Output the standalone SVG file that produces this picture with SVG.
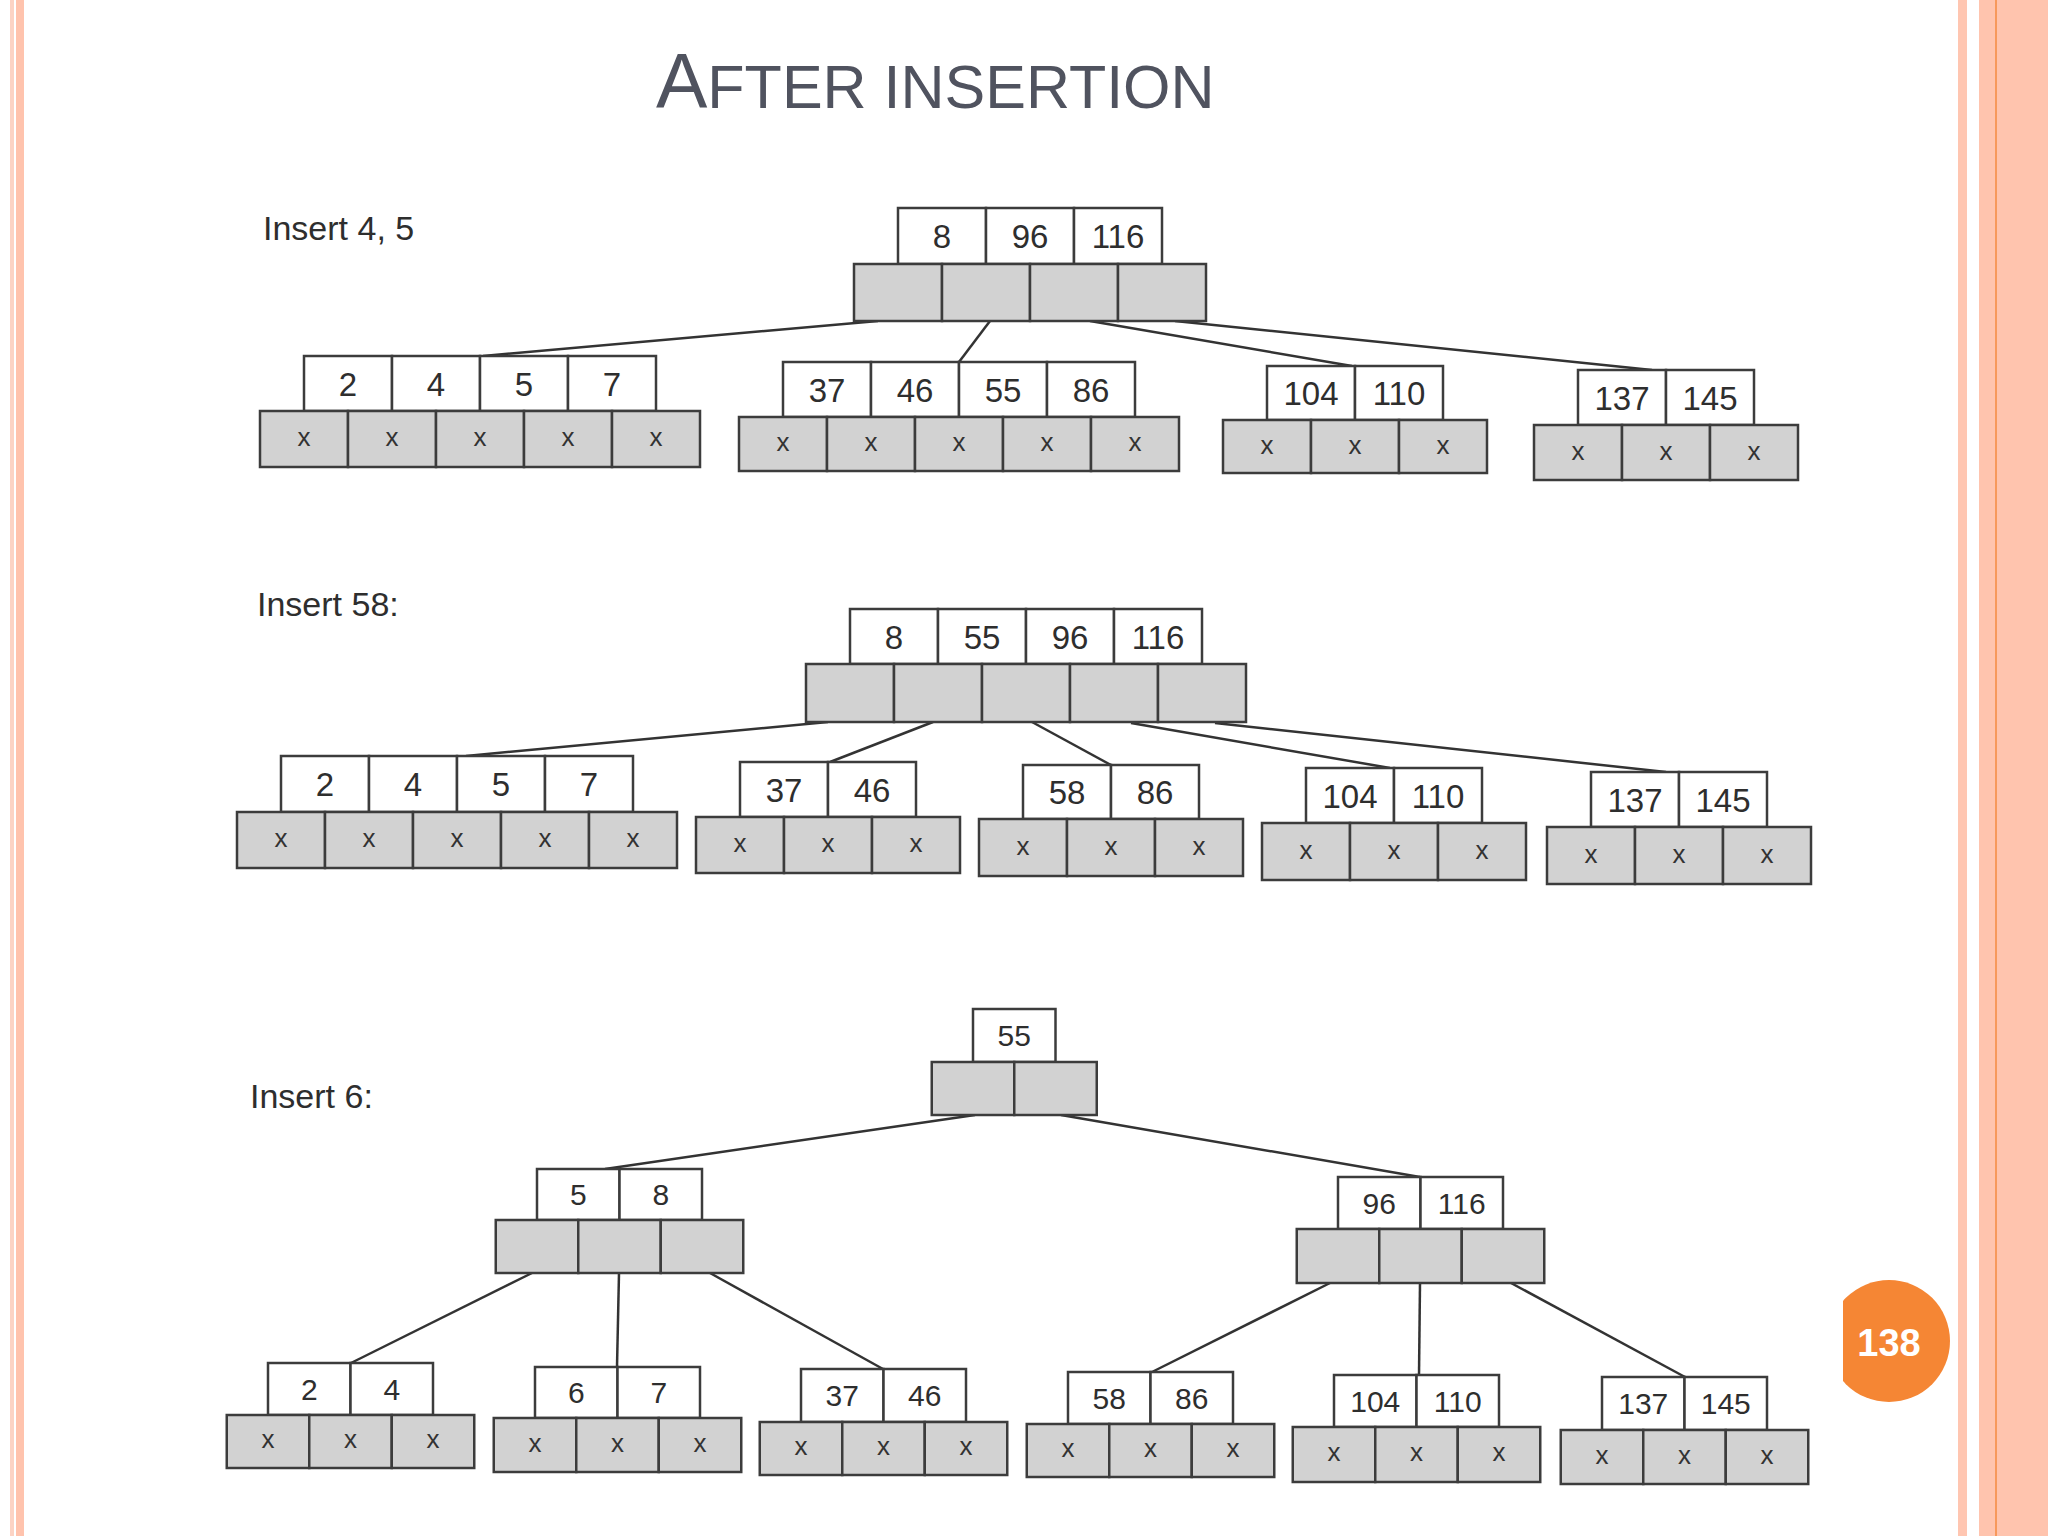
<svg xmlns="http://www.w3.org/2000/svg" width="2048" height="1536" viewBox="0 0 2048 1536">
<defs>
<style>
.k{fill:#ffffff;stroke:#3c3c3c;stroke-width:2.5}
.p{fill:#d2d2d2;stroke:#3c3c3c;stroke-width:2.5}
.n{font-family:"Liberation Sans",Arial,sans-serif;font-size:33px;fill:#2e2e2e;text-anchor:middle}
.s{font-family:"Liberation Sans",Arial,sans-serif;font-size:30px;fill:#2e2e2e;text-anchor:middle}
.x{font-family:"Liberation Sans",Arial,sans-serif;font-size:26px;fill:#333333;text-anchor:middle}
.lbl{font-family:"Liberation Sans",Arial,sans-serif;font-size:34px;fill:#2e2e2e}
.c{stroke:#333333;stroke-width:2.5;fill:none}
</style>
<clipPath id="cc"><rect x="1843" y="1270" width="120" height="150"/></clipPath>
</defs>
<rect width="2048" height="1536" fill="#ffffff"/>
<g id="borders">
<rect x="10" y="0" width="4" height="1536" fill="#fcd3c4"/>
<rect x="16" y="0" width="8" height="1536" fill="#ffc3ad"/>
<rect x="1958" y="0" width="9" height="1536" fill="#ffc6b1"/>
<rect x="1979" y="0" width="69" height="1536" fill="#ffc4ae"/>
<rect x="1995" y="0" width="2" height="1536" fill="#f7995c"/>
</g>
<text id="title" x="656" y="108" font-family="'Liberation Sans',Arial,sans-serif" fill="#50535f"><tspan font-size="77">A</tspan><tspan font-size="61">FTER INSERTION</tspan></text>

<g id="labels">
<text class="lbl" x="263" y="240">Insert 4, 5</text>
<text class="lbl" x="257" y="616">Insert 58:</text>
<text class="lbl" x="250" y="1108">Insert 6:</text>
</g>

<g id="connectors">
<line class="c" x1="878" y1="321" x2="483" y2="356"/>
<line class="c" x1="990" y1="321" x2="959" y2="362"/>
<line class="c" x1="1090" y1="321" x2="1352" y2="366"/>
<line class="c" x1="1175" y1="321" x2="1652" y2="370"/>
<line class="c" x1="828" y1="722" x2="466" y2="756"/>
<line class="c" x1="933" y1="722" x2="830" y2="762"/>
<line class="c" x1="1032" y1="722" x2="1111" y2="765"/>
<line class="c" x1="1131" y1="723" x2="1390" y2="768"/>
<line class="c" x1="1215" y1="723" x2="1666" y2="772"/>
<line class="c" x1="975" y1="1115" x2="605" y2="1169"/>
<line class="c" x1="1061" y1="1115" x2="1420" y2="1177"/>
<line class="c" x1="532" y1="1273" x2="351" y2="1363"/>
<line class="c" x1="619" y1="1273" x2="617" y2="1367"/>
<line class="c" x1="710" y1="1273" x2="883" y2="1369"/>
<line class="c" x1="1330" y1="1283" x2="1152" y2="1372"/>
<line class="c" x1="1420" y1="1283" x2="1419" y2="1375"/>
<line class="c" x1="1511" y1="1283" x2="1685" y2="1377"/>
</g>

<!-- Tree 1 -->
<g id="t1-root">
<rect class="k" x="898" y="208" width="88" height="56"/><rect class="k" x="986" y="208" width="88" height="56"/><rect class="k" x="1074" y="208" width="88" height="56"/>
<rect class="p" x="854" y="264" width="88" height="57"/><rect class="p" x="942" y="264" width="88" height="57"/><rect class="p" x="1030" y="264" width="88" height="57"/><rect class="p" x="1118" y="264" width="88" height="57"/>
<text class="n" x="942" y="248">8</text><text class="n" x="1030" y="248">96</text><text class="n" x="1118" y="248">116</text>
</g>
<g id="t1-leaf1">
<rect class="k" x="304" y="356" width="88" height="55"/><rect class="k" x="392" y="356" width="88" height="55"/><rect class="k" x="480" y="356" width="88" height="55"/><rect class="k" x="568" y="356" width="88" height="55"/>
<rect class="p" x="260" y="411" width="88" height="56"/><rect class="p" x="348" y="411" width="88" height="56"/><rect class="p" x="436" y="411" width="88" height="56"/><rect class="p" x="524" y="411" width="88" height="56"/><rect class="p" x="612" y="411" width="88" height="56"/>
<text class="n" x="348" y="396">2</text><text class="n" x="436" y="396">4</text><text class="n" x="524" y="396">5</text><text class="n" x="612" y="396">7</text>
<text class="x" x="304" y="446">x</text><text class="x" x="392" y="446">x</text><text class="x" x="480" y="446">x</text><text class="x" x="568" y="446">x</text><text class="x" x="656" y="446">x</text>
</g>
<g id="t1-leaf2">
<rect class="k" x="783" y="362" width="88" height="55"/><rect class="k" x="871" y="362" width="88" height="55"/><rect class="k" x="959" y="362" width="88" height="55"/><rect class="k" x="1047" y="362" width="88" height="55"/>
<rect class="p" x="739" y="417" width="88" height="54"/><rect class="p" x="827" y="417" width="88" height="54"/><rect class="p" x="915" y="417" width="88" height="54"/><rect class="p" x="1003" y="417" width="88" height="54"/><rect class="p" x="1091" y="417" width="88" height="54"/>
<text class="n" x="827" y="402">37</text><text class="n" x="915" y="402">46</text><text class="n" x="1003" y="402">55</text><text class="n" x="1091" y="402">86</text>
<text class="x" x="783" y="451">x</text><text class="x" x="871" y="451">x</text><text class="x" x="959" y="451">x</text><text class="x" x="1047" y="451">x</text><text class="x" x="1135" y="451">x</text>
</g>
<g id="t1-leaf3">
<rect class="k" x="1267" y="366" width="88" height="54"/><rect class="k" x="1355" y="366" width="88" height="54"/>
<rect class="p" x="1223" y="420" width="88" height="53"/><rect class="p" x="1311" y="420" width="88" height="53"/><rect class="p" x="1399" y="420" width="88" height="53"/>
<text class="n" x="1311" y="405">104</text><text class="n" x="1399" y="405">110</text>
<text class="x" x="1267" y="454">x</text><text class="x" x="1355" y="454">x</text><text class="x" x="1443" y="454">x</text>
</g>
<g id="t1-leaf4">
<rect class="k" x="1578" y="370" width="88" height="55"/><rect class="k" x="1666" y="370" width="88" height="55"/>
<rect class="p" x="1534" y="425" width="88" height="55"/><rect class="p" x="1622" y="425" width="88" height="55"/><rect class="p" x="1710" y="425" width="88" height="55"/>
<text class="n" x="1622" y="410">137</text><text class="n" x="1710" y="410">145</text>
<text class="x" x="1578" y="460">x</text><text class="x" x="1666" y="460">x</text><text class="x" x="1754" y="460">x</text>
</g>

<!-- Tree 2 -->
<g id="t2-root">
<rect class="k" x="850" y="609" width="88" height="55"/><rect class="k" x="938" y="609" width="88" height="55"/><rect class="k" x="1026" y="609" width="88" height="55"/><rect class="k" x="1114" y="609" width="88" height="55"/>
<rect class="p" x="806" y="664" width="88" height="58"/><rect class="p" x="894" y="664" width="88" height="58"/><rect class="p" x="982" y="664" width="88" height="58"/><rect class="p" x="1070" y="664" width="88" height="58"/><rect class="p" x="1158" y="664" width="88" height="58"/>
<text class="n" x="894" y="649">8</text><text class="n" x="982" y="649">55</text><text class="n" x="1070" y="649">96</text><text class="n" x="1158" y="649">116</text>
</g>
<g id="t2-leaf1">
<rect class="k" x="281" y="756" width="88" height="56"/><rect class="k" x="369" y="756" width="88" height="56"/><rect class="k" x="457" y="756" width="88" height="56"/><rect class="k" x="545" y="756" width="88" height="56"/>
<rect class="p" x="237" y="812" width="88" height="56"/><rect class="p" x="325" y="812" width="88" height="56"/><rect class="p" x="413" y="812" width="88" height="56"/><rect class="p" x="501" y="812" width="88" height="56"/><rect class="p" x="589" y="812" width="88" height="56"/>
<text class="n" x="325" y="796">2</text><text class="n" x="413" y="796">4</text><text class="n" x="501" y="796">5</text><text class="n" x="589" y="796">7</text>
<text class="x" x="281" y="847">x</text><text class="x" x="369" y="847">x</text><text class="x" x="457" y="847">x</text><text class="x" x="545" y="847">x</text><text class="x" x="633" y="847">x</text>
</g>
<g id="t2-leaf2">
<rect class="k" x="740" y="762" width="88" height="55"/><rect class="k" x="828" y="762" width="88" height="55"/>
<rect class="p" x="696" y="817" width="88" height="56"/><rect class="p" x="784" y="817" width="88" height="56"/><rect class="p" x="872" y="817" width="88" height="56"/>
<text class="n" x="784" y="802">37</text><text class="n" x="872" y="802">46</text>
<text class="x" x="740" y="852">x</text><text class="x" x="828" y="852">x</text><text class="x" x="916" y="852">x</text>
</g>
<g id="t2-leaf3">
<rect class="k" x="1023" y="765" width="88" height="54"/><rect class="k" x="1111" y="765" width="88" height="54"/>
<rect class="p" x="979" y="819" width="88" height="57"/><rect class="p" x="1067" y="819" width="88" height="57"/><rect class="p" x="1155" y="819" width="88" height="57"/>
<text class="n" x="1067" y="804">58</text><text class="n" x="1155" y="804">86</text>
<text class="x" x="1023" y="855">x</text><text class="x" x="1111" y="855">x</text><text class="x" x="1199" y="855">x</text>
</g>
<g id="t2-leaf4">
<rect class="k" x="1306" y="768" width="88" height="55"/><rect class="k" x="1394" y="768" width="88" height="55"/>
<rect class="p" x="1262" y="823" width="88" height="57"/><rect class="p" x="1350" y="823" width="88" height="57"/><rect class="p" x="1438" y="823" width="88" height="57"/>
<text class="n" x="1350" y="808">104</text><text class="n" x="1438" y="808">110</text>
<text class="x" x="1306" y="859">x</text><text class="x" x="1394" y="859">x</text><text class="x" x="1482" y="859">x</text>
</g>
<g id="t2-leaf5">
<rect class="k" x="1591" y="772" width="88" height="55"/><rect class="k" x="1679" y="772" width="88" height="55"/>
<rect class="p" x="1547" y="827" width="88" height="57"/><rect class="p" x="1635" y="827" width="88" height="57"/><rect class="p" x="1723" y="827" width="88" height="57"/>
<text class="n" x="1635" y="812">137</text><text class="n" x="1723" y="812">145</text>
<text class="x" x="1591" y="863">x</text><text class="x" x="1679" y="863">x</text><text class="x" x="1767" y="863">x</text>
</g>

<!-- Tree 3 -->
<g id="t3-root">
<rect class="k" x="973" y="1009" width="82.5" height="53"/>
<rect class="p" x="931.75" y="1062" width="82.5" height="53"/><rect class="p" x="1014.25" y="1062" width="82.5" height="53"/>
<text class="s" x="1014.25" y="1046">55</text>
</g>
<g id="t3-n1">
<rect class="k" x="537" y="1169" width="82.5" height="51"/><rect class="k" x="619.5" y="1169" width="82.5" height="51"/>
<rect class="p" x="495.75" y="1220" width="82.5" height="53"/><rect class="p" x="578.25" y="1220" width="82.5" height="53"/><rect class="p" x="660.75" y="1220" width="82.5" height="53"/>
<text class="s" x="578.25" y="1205">5</text><text class="s" x="660.75" y="1205">8</text>
</g>
<g id="t3-n2">
<rect class="k" x="1338" y="1177" width="82.5" height="52"/><rect class="k" x="1420.5" y="1177" width="82.5" height="52"/>
<rect class="p" x="1296.75" y="1229" width="82.5" height="54"/><rect class="p" x="1379.25" y="1229" width="82.5" height="54"/><rect class="p" x="1461.75" y="1229" width="82.5" height="54"/>
<text class="s" x="1379.25" y="1214">96</text><text class="s" x="1461.75" y="1214">116</text>
</g>
<g id="t3-leaf1">
<rect class="k" x="268" y="1363" width="82.5" height="52"/><rect class="k" x="350.5" y="1363" width="82.5" height="52"/>
<rect class="p" x="226.75" y="1415" width="82.5" height="53"/><rect class="p" x="309.25" y="1415" width="82.5" height="53"/><rect class="p" x="391.75" y="1415" width="82.5" height="53"/>
<text class="s" x="309.25" y="1400">2</text><text class="s" x="391.75" y="1400">4</text>
<text class="x" x="268" y="1448">x</text><text class="x" x="350.5" y="1448">x</text><text class="x" x="433" y="1448">x</text>
</g>
<g id="t3-leaf2">
<rect class="k" x="535" y="1367" width="82.5" height="51"/><rect class="k" x="617.5" y="1367" width="82.5" height="51"/>
<rect class="p" x="493.75" y="1418" width="82.5" height="54"/><rect class="p" x="576.25" y="1418" width="82.5" height="54"/><rect class="p" x="658.75" y="1418" width="82.5" height="54"/>
<text class="s" x="576.25" y="1403">6</text><text class="s" x="658.75" y="1403">7</text>
<text class="x" x="535" y="1452">x</text><text class="x" x="617.5" y="1452">x</text><text class="x" x="700" y="1452">x</text>
</g>
<g id="t3-leaf3">
<rect class="k" x="801" y="1369" width="82.5" height="53"/><rect class="k" x="883.5" y="1369" width="82.5" height="53"/>
<rect class="p" x="759.75" y="1422" width="82.5" height="53"/><rect class="p" x="842.25" y="1422" width="82.5" height="53"/><rect class="p" x="924.75" y="1422" width="82.5" height="53"/>
<text class="s" x="842.25" y="1406">37</text><text class="s" x="924.75" y="1406">46</text>
<text class="x" x="801" y="1455">x</text><text class="x" x="883.5" y="1455">x</text><text class="x" x="966" y="1455">x</text>
</g>
<g id="t3-leaf4">
<rect class="k" x="1068" y="1372" width="82.5" height="52"/><rect class="k" x="1150.5" y="1372" width="82.5" height="52"/>
<rect class="p" x="1026.75" y="1424" width="82.5" height="53"/><rect class="p" x="1109.25" y="1424" width="82.5" height="53"/><rect class="p" x="1191.75" y="1424" width="82.5" height="53"/>
<text class="s" x="1109.25" y="1409">58</text><text class="s" x="1191.75" y="1409">86</text>
<text class="x" x="1068" y="1457">x</text><text class="x" x="1150.5" y="1457">x</text><text class="x" x="1233" y="1457">x</text>
</g>
<g id="t3-leaf5">
<rect class="k" x="1334" y="1375" width="82.5" height="52"/><rect class="k" x="1416.5" y="1375" width="82.5" height="52"/>
<rect class="p" x="1292.75" y="1427" width="82.5" height="55"/><rect class="p" x="1375.25" y="1427" width="82.5" height="55"/><rect class="p" x="1457.75" y="1427" width="82.5" height="55"/>
<text class="s" x="1375.25" y="1412">104</text><text class="s" x="1457.75" y="1412">110</text>
<text class="x" x="1334" y="1461">x</text><text class="x" x="1416.5" y="1461">x</text><text class="x" x="1499" y="1461">x</text>
</g>
<g id="t3-leaf6">
<rect class="k" x="1602" y="1377" width="82.5" height="53"/><rect class="k" x="1684.5" y="1377" width="82.5" height="53"/>
<rect class="p" x="1560.75" y="1430" width="82.5" height="54"/><rect class="p" x="1643.25" y="1430" width="82.5" height="54"/><rect class="p" x="1725.75" y="1430" width="82.5" height="54"/>
<text class="s" x="1643.25" y="1414">137</text><text class="s" x="1725.75" y="1414">145</text>
<text class="x" x="1602" y="1464">x</text><text class="x" x="1684.5" y="1464">x</text><text class="x" x="1767" y="1464">x</text>
</g>

<g id="page-number">
<circle cx="1889" cy="1341" r="61" fill="#f58634" clip-path="url(#cc)"/>
<text x="1889" y="1356" font-family="'Liberation Sans',Arial,sans-serif" font-size="38" font-weight="bold" fill="#ffffff" text-anchor="middle">138</text>
</g>
</svg>
